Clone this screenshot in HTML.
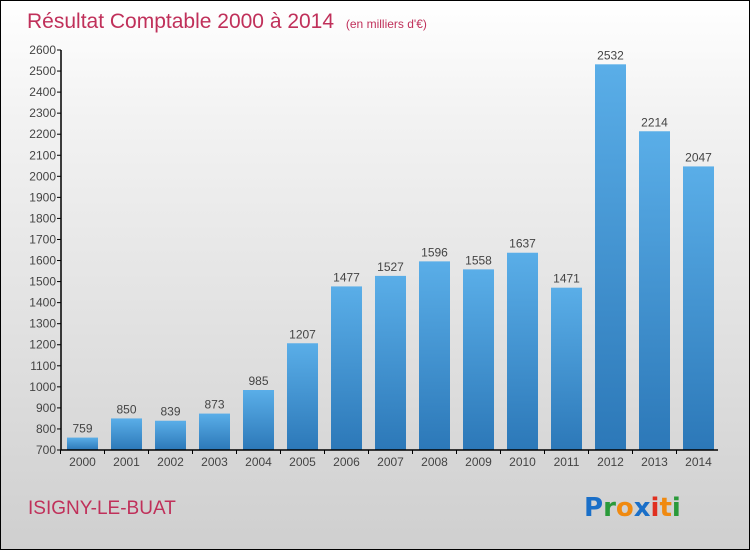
<!DOCTYPE html>
<html><head><meta charset="utf-8"><style>
body{margin:0}
#c{width:750px;height:550px;position:relative;box-sizing:border-box;border:1px solid #000;background:linear-gradient(#ffffff,#f3f3f3 20%,#cfcfcf);font-family:"Liberation Sans",sans-serif;overflow:hidden}
</style></head><body>
<div id="c">
<svg id="s" width="750" height="550" style="position:absolute;left:-1px;top:-1px">
<defs><linearGradient id="g" x1="0" y1="0" x2="0" y2="1"><stop offset="0" stop-color="#5aaee8"/><stop offset="1" stop-color="#2c78b8"/></linearGradient></defs>
<text x="27" y="28" font-size="21" fill="#c0305a">Résultat Comptable 2000 à 2014 <tspan font-size="12" dx="6">(en milliers d'€)</tspan></text>
<text x="28" y="514" font-size="19" fill="#c0305a">ISIGNY-LE-BUAT</text>
<text x="584" y="516" font-size="26" font-weight="bold" font-family="DejaVu Sans,sans-serif"><tspan fill="#1a6fc8">P</tspan><tspan fill="#2a9a3a">r</tspan><tspan fill="#f08a10">o</tspan><tspan fill="#1a6fc8">x</tspan><tspan fill="#e03020">i</tspan><tspan fill="#f08a10">t</tspan><tspan fill="#2a9a3a">i</tspan></text>
<g id="plot"></g>
</svg></div>
<script>
const years=["2000","2001","2002","2003","2004","2005","2006","2007","2008","2009","2010","2011","2012","2013","2014"];
const values=[759,850,839,873,985,1207,1477,1527,1596,1558,1637,1471,2532,2214,2047];
const yTicks=[700,800,900,1000,1100,1200,1300,1400,1500,1600,1700,1800,1900,2000,2100,2200,2300,2400,2500,2600];
const NS="http://www.w3.org/2000/svg",p=document.getElementById('plot');
const y0=450,y1=50,vmin=700,vmax=2600;
const yS=v=>y0-(v-vmin)/(vmax-vmin)*(y0-y1);
const xS=i=>82.5+i*44;
function mk(t,a,txt){const e=document.createElementNS(NS,t);for(const k in a)e.setAttribute(k,a[k]);if(txt!==undefined)e.textContent=txt;p.appendChild(e);return e;}
values.forEach((v,i)=>{
 const r=mk('rect',{x:xS(i)-15.5,y:yS(v),width:31,height:y0-yS(v),fill:'url(#g)'});
 
 
 const t=mk('text',{x:xS(i),y:yS(v)-5,'text-anchor':'middle','font-size':12,fill:'#444'},v);
 
 
 const xl=mk('text',{x:xS(i),y:466,'text-anchor':'middle','font-size':12,fill:'#444'},years[i]);
 
 
 mk('line',{x1:xS(i)-22,x2:xS(i)-22,y1:450,y2:454,stroke:'#000'});
});
yTicks.forEach(v=>{
 mk('line',{x1:57,x2:61,y1:yS(v),y2:yS(v),stroke:'#000'});
 const t=mk('text',{x:56,y:yS(v)+4,'text-anchor':'end','font-size':12,fill:'#444'},v);
 
 
});
const ya=mk('line',{x1:61,x2:61,y1:50,y2:450,stroke:'#000','stroke-width':1.5});


const xa=mk('line',{x1:61,x2:718,y1:450,y2:450,stroke:'#000','stroke-width':1.5});


</script>
</body></html>
